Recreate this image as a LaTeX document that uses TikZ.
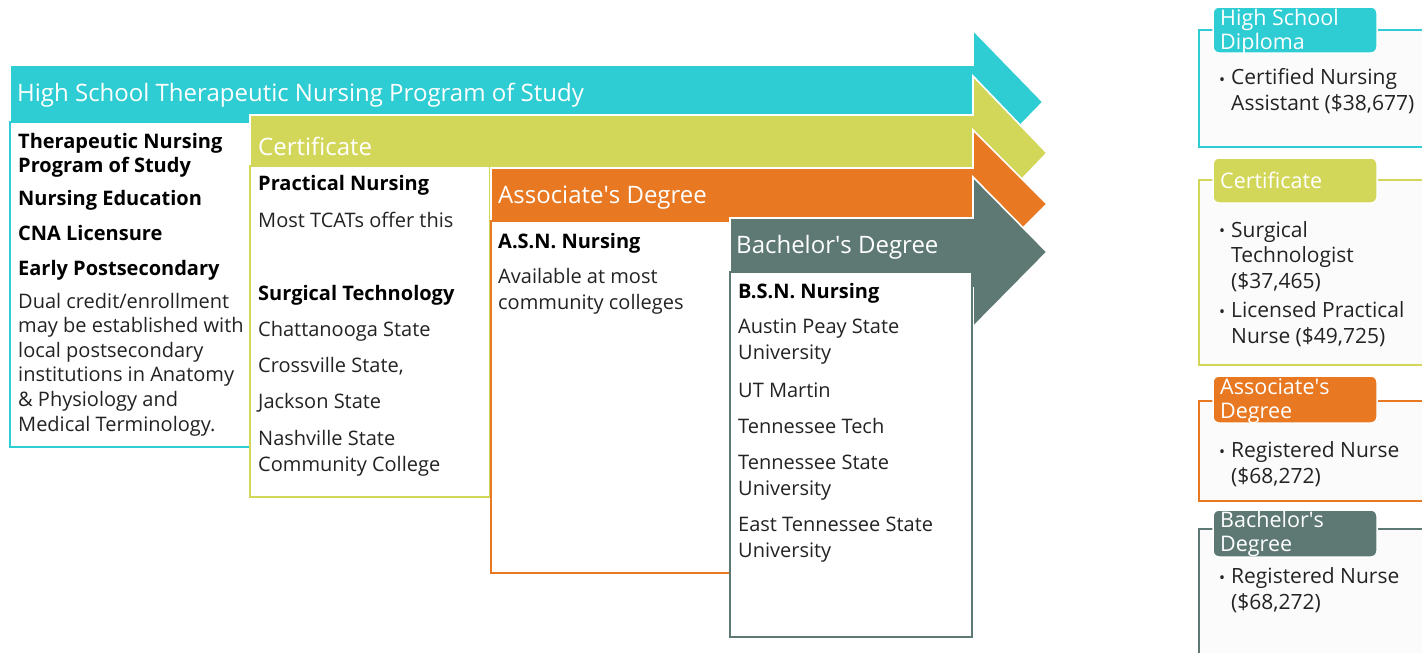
\documentclass[tikz,border=0pt]{standalone}
\usepackage{fontspec}
\setmainfont{Open Sans}
\definecolor{cteal}{RGB}{46,204,211}
\definecolor{cyel}{RGB}{211,215,89}
\definecolor{corg}{RGB}{232,120,34}
\definecolor{cgry}{RGB}{94,121,116}
\definecolor{ctxt}{RGB}{35,35,35}
\definecolor{cfrm}{RGB}{251,251,251}
\newcommand{\apos}{\textquotesingle}
\begin{document}
\begin{tikzpicture}[x=1pt,y=-1pt,
  arrowshape/.style={draw=white, line width=1.6pt, line join=miter},
  cbox/.style={fill=white, line width=2.2pt},
  lframe/.style={fill=cfrm, line width=2.2pt},
  lab/.style={draw=white, line width=1.5pt, rounded corners=6pt},
  titlet/.style={text=white, font=\fontsize{24}{28}\selectfont, anchor=base west, inner sep=0pt},
  labt/.style={text=white, font=\fontsize{21.5}{24}\selectfont, anchor=base west, inner sep=0pt, align=left},
  bodyt/.style={text=ctxt, font=\fontsize{20}{25.5}\selectfont, anchor=base west, inner sep=0pt, align=left},
  bodyu/.style={bodyt, font=\fontsize{20}{24.6}\selectfont},
  legt/.style={bodyt, font=\fontsize{21}{25.5}\selectfont},
  headt/.style={text=black, font=\fontsize{20}{24}\selectfont\bfseries, anchor=base west, inner sep=0pt, align=left},
  bult/.style={text=ctxt, font=\fontsize{16}{20}\selectfont, anchor=base west, inner sep=0pt}]
\useasboundingbox (0,0) rectangle (1422,653);
\clip (0,0) rectangle (1422,653);

% ---------- teal arrow + box
\path[arrowshape, fill=cteal] (10,65) -- (973,65) -- (973,30) -- (1043,102) -- (973,174) -- (973,139) -- (10,139) -- cycle;
\draw[cbox, draw=cteal] (10,122) rectangle (250,447);
\node[titlet] (tt1) at (17,101) {High School Therapeutic Nursing Program of Study};
\node[headt] (a1) at (18,172) {Therapeutic Nursing\\Program of Study};
\node[headt] (a2) at (18,205) {Nursing Education};
\node[headt] (a3) at (18,240) {CNA Licensure};
\node[headt] (a4) at (18,275) {Early Postsecondary};
\node[bodyu] (a5) at (18,431) {Dual credit/enrollment\\may be established with\\local postsecondary\\institutions in Anatomy\\\& Physiology and\\Medical Terminology.};

% ---------- yellow arrow + box
\path[arrowshape, fill=cyel] (250,115) -- (973,115) -- (973,76) -- (1047,153) -- (973,230) -- (973,191) -- (250,191) -- cycle;
\draw[cbox, draw=cyel] (250,166) rectangle (490,497);
\node[titlet] (tt2) at (258,155) {Certificate};
\node[headt] (b1) at (258,190) {Practical Nursing};
\node[bodyt] (b2) at (258,227) {Most TCATs offer this};
\node[headt] (b3) at (258,300) {Surgical Technology};
\node[bodyt] (b4) at (258,336) {Chattanooga State};
\node[bodyt] (b5) at (258,372) {Crossville State,};
\node[bodyt] (b6) at (258,408) {Jackson State};
\node[bodyt] (b7) at (258,471) {Nashville State\\Community College};

% ---------- orange arrow + box
\path[arrowshape, fill=corg] (491,168) -- (973,168) -- (973,130) -- (1047,204) -- (973,278) -- (973,240) -- (491,240) -- cycle;
\draw[cbox, draw=corg] (491,221) rectangle (730,573);
\node[titlet] (tt3) at (498,203) {Associate\apos s Degree};
\node[headt] (c1) at (498,248) {A.S.N. Nursing};
\node[bodyt] (c2) at (498,309) {Available at most\\community colleges};

% ---------- grey arrow + box
\path[arrowshape, fill=cgry] (730,218) -- (973,218) -- (973,177) -- (1047,252) -- (973,327) -- (973,288) -- (730,288) -- cycle;
\draw[cbox, draw=cgry] (730,272) rectangle (972,637);
\node[titlet] (tt4) at (736,253) {Bachelor\apos s Degree};
\node[headt] (d1) at (738,298) {B.S.N. Nursing};
\node[bodyt] (d2) at (738,359) {Austin Peay State\\University};
\node[bodyt] (d3) at (738,397) {UT Martin};
\node[bodyt] (d4) at (738,433) {Tennessee Tech};
\node[bodyt] (d5) at (738,495) {Tennessee State\\University};
\node[bodyt] (d6) at (738,557) {East Tennessee State\\University};

% ---------- legend
\draw[lframe, draw=cteal] (1199,30) rectangle (1450,147);
\path[lab, fill=cteal] (1213,7) rectangle (1377,53);
\node[labt] (l1) at (1220,49) {High School\\Diploma};
\node[bult] (l1b) at (1219,85) {•};
\node[legt] (l1t) at (1231,110) {Certified Nursing\\Assistant (\$38,677)};

\draw[lframe, draw=cyel] (1199,180) rectangle (1450,365);
\path[lab, fill=cyel] (1213,158) rectangle (1377,203);
\node[labt] (l2) at (1220,188) {Certificate};
\node[bult] (l2b) at (1219,236) {•};
\node[legt] (l2t) at (1231,288) {Surgical\\Technologist\\(\$37,465)};
\node[bult] (l2c) at (1219,317) {•};
\node[legt] (l2u) at (1231,343) {Licensed Practical\\Nurse (\$49,725)};

\draw[lframe, draw=corg] (1199,401) rectangle (1450,501);
\path[lab, fill=corg] (1213,376) rectangle (1377,423);
\node[labt] (l3) at (1220,418) {Associate\apos s\\Degree};
\node[bult] (l3b) at (1219,457) {•};
\node[legt] (l3t) at (1231,483) {Registered Nurse\\(\$68,272)};

\draw[lframe, draw=cgry] (1199,529) rectangle (1450,680);
\path[lab, fill=cgry] (1213,510) rectangle (1377,557);
\node[labt] (l4) at (1220,551) {Bachelor\apos s\\Degree};
\node[bult] (l4b) at (1219,583) {•};
\node[legt] (l4t) at (1231,609) {Registered Nurse\\(\$68,272)};
\end{tikzpicture}
\end{document}
